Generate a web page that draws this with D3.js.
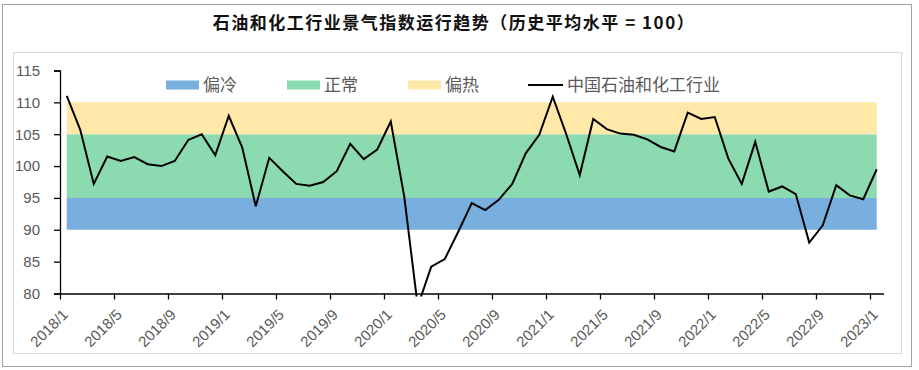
<!DOCTYPE html>
<html><head><meta charset="utf-8">
<script src="https://cdn.jsdelivr.net/npm/d3@7"></script>
<style>
html,body{margin:0;padding:0;background:#fff;}
svg{display:block;}
</style></head>
<body>
<svg id="c" width="919" height="370"></svg>
<script>
// ---- data ----
const months = [];
for (let y = 2018; y <= 2023; y++) for (let m = 1; m <= 12; m++) { if (y === 2023 && m > 1) break; months.push(y + "/" + m); }
const values = [
  111.0, 105.7, 97.2, 101.5, 100.8, 101.4, 100.3, 100.0, 100.8, 104.1, 105.0, 101.7,
  107.9, 102.9, 93.7, 101.3, 99.2, 97.2, 96.9, 97.5, 99.2, 103.5, 101.1, 102.6,
  107.0, 95.2, 78.0, 84.2, 85.4, 89.7, 94.2, 93.1, 94.7, 97.2, 102.0, 104.9,
  110.9, 105.0, 98.6, 107.4, 105.8, 105.1, 104.9, 104.2, 103.0, 102.3, 108.4, 107.4,
  107.7, 101.2, 97.2, 103.8, 96.0, 96.8, 95.6, 88.0, 90.7, 97.0, 95.4, 94.8,
  99.5
];
const bandNames = ["偏冷", "正常", "偏热"];
const bandLow = [90, 95, 105];
const bandHigh = [95, 105, 110];
const bandColors = ["#78AFDE", "#8CDAB0", "#FFE8A8"];
const lineName = "中国石油和化工行业";
const yTicks = [80, 85, 90, 95, 100, 105, 110, 115];
const title = "石油和化工行业景气指数运行趋势（历史平均水平 = 100）";

// ---- layout ----
const svg = d3.select("#c");
const L = 60, R = 883.5, T = 70.5, B = 293.5;
const x = d3.scaleLinear().domain([0, months.length]).range([L, R]);
const y = d3.scaleLinear().domain([80, 115]).range([B, T]);
const cx = i => x(i + 0.5);

// outer dotted border
svg.append("rect").attr("x", 2.5).attr("y", 4.5).attr("width", 909).attr("height", 362)
  .attr("fill", "none").attr("stroke", "#444").attr("stroke-width", 1).attr("stroke-dasharray", "1,1");
// chart area border
svg.append("rect").attr("x", 13.5).attr("y", 52.5).attr("width", 888).attr("height", 301)
  .attr("fill", "#fff").attr("stroke", "#D9D9D9").attr("stroke-width", 1);

// title
svg.append("text").attr("x", 454).attr("y", 29).attr("text-anchor", "middle")
  .attr("font-family", "'Noto Sans CJK SC', sans-serif").attr("font-weight", "bold")
  .attr("font-size", 17).attr("letter-spacing", 1.5).attr("fill", "#111").text(title);

// bands
bandNames.forEach((n, k) => {
  const area = d3.area().x((d, i) => cx(i)).y0(() => y(bandLow[k])).y1(() => y(bandHigh[k]));
  svg.append("path").datum(values).attr("d", area).attr("fill", bandColors[k]);
});

// axes
const yAxis = d3.axisLeft(y).tickValues(yTicks).tickSize(6).tickPadding(14);
const gy = svg.append("g").attr("transform", `translate(${L},0)`).call(yAxis);
gy.select(".domain").attr("stroke", "#000").attr("stroke-width", 1.3);
gy.selectAll(".tick line").attr("stroke", "#000").attr("stroke-width", 1.3);
gy.selectAll(".tick text").attr("font-family", "'Liberation Sans', Arial, sans-serif")
  .attr("font-size", 15).attr("fill", "#595959");

const tickIdx = d3.range(0, months.length, 4);
const xAxis = d3.axisBottom(x).tickValues(tickIdx).tickFormat(i => months[i]).tickSize(6).tickSizeOuter(0);
const gx = svg.append("g").attr("transform", `translate(0,${B})`).call(xAxis);
gx.select(".domain").attr("stroke", "#000").attr("stroke-width", 1.3);
gx.selectAll(".tick line").attr("stroke", "#000").attr("stroke-width", 1.3);
gx.selectAll(".tick text").attr("font-family", "'Liberation Sans', Arial, sans-serif")
  .attr("font-size", 15).attr("fill", "#595959")
  .attr("text-anchor", "end").attr("dy", 0).attr("y", 0)
  .attr("transform", "translate(8.5,22) rotate(-45)");

// line (clipped to plot area with a small margin below)
svg.append("clipPath").attr("id", "clip").append("rect")
  .attr("x", L).attr("y", 40).attr("width", R - L + 5).attr("height", B + 3 - 40);
const line = d3.line().x((d, i) => cx(i)).y(d => y(d));
svg.append("path").datum(values).attr("d", line).attr("fill", "none")
  .attr("stroke", "#000").attr("stroke-width", 2).attr("stroke-linejoin", "miter")
  .attr("clip-path", "url(#clip)");

// legend
const lg = svg.append("g");
const legX = [166, 287, 408, 528];
bandNames.forEach((n, k) => {
  lg.append("rect").attr("x", legX[k]).attr("y", 80.5).attr("width", 33).attr("height", 9).attr("fill", bandColors[k]);
  lg.append("text").attr("x", legX[k] + 37).attr("y", 91)
    .attr("font-family", "'Noto Sans CJK SC', sans-serif").attr("font-size", 17).attr("fill", "#595959").text(n);
});
lg.append("line").attr("x1", legX[3]).attr("x2", legX[3] + 35).attr("y1", 85).attr("y2", 85)
  .attr("stroke", "#000").attr("stroke-width", 2);
lg.append("text").attr("x", legX[3] + 39).attr("y", 91)
  .attr("font-family", "'Noto Sans CJK SC', sans-serif").attr("font-size", 17).attr("fill", "#595959").text(lineName);
</script>
</body></html>
